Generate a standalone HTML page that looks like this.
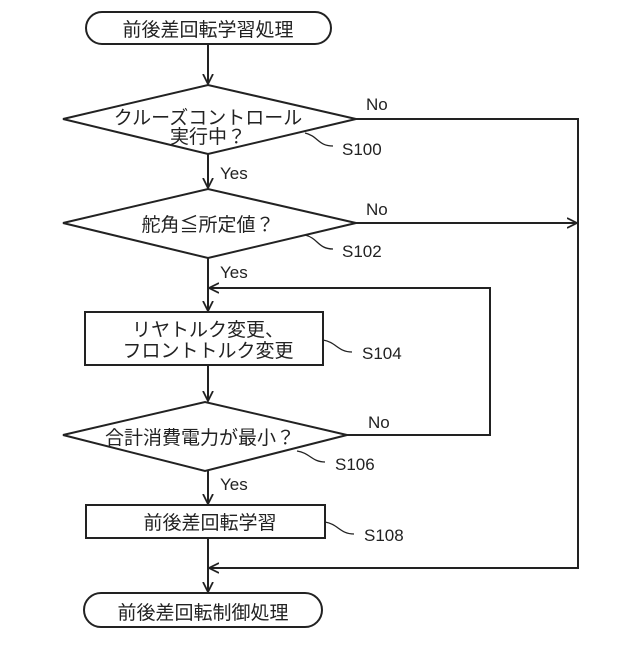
<!DOCTYPE html>
<html><head><meta charset="utf-8"><style>body{margin:0;background:#fff}</style></head><body>
<svg width="640" height="640" viewBox="0 0 640 640" xmlns="http://www.w3.org/2000/svg" font-family="Liberation Sans, Noto Sans CJK JP, sans-serif" fill="none" stroke="#222" stroke-width="2">
<defs><marker id="a" markerWidth="12" markerHeight="12" refX="10" refY="6" orient="auto" markerUnits="userSpaceOnUse"><path d="M0,1 L10,6 L0,11" stroke="#222" stroke-width="1.8" fill="none"/></marker></defs>
<rect x="86" y="12" width="245" height="32" rx="16"/>
<rect x="84" y="593" width="238" height="34" rx="17"/>
<polygon points="63,119 208,85 356,119 208,154"/>
<polygon points="63,223 208,189 356,223 208,258"/>
<rect x="85" y="312" width="238" height="53"/>
<polygon points="63,435 205,402 347,435 205,471"/>
<rect x="86" y="505" width="239" height="33"/>
<line x1="208" y1="44" x2="208" y2="84" marker-end="url(#a)"/>
<line x1="208" y1="154" x2="208" y2="188" marker-end="url(#a)"/>
<line x1="208" y1="258" x2="208" y2="311" marker-end="url(#a)"/>
<line x1="208" y1="365" x2="208" y2="401" marker-end="url(#a)"/>
<line x1="208" y1="471" x2="208" y2="504" marker-end="url(#a)"/>
<line x1="208" y1="538" x2="208" y2="592" marker-end="url(#a)"/>
<polyline points="356,119 578,119 578,568 209,568" marker-end="url(#a)"/>
<line x1="356" y1="223" x2="577" y2="223" marker-end="url(#a)"/>
<polyline points="347,435 490,435 490,288 209,288" marker-end="url(#a)"/>
<g stroke-width="1.3">
<path d="M305,133 C318,136 318,146 333,146"/>
<path d="M305,235 C318,238 318,249 333,249"/>
<path d="M323,340 C336,342 338,352 352,352"/>
<path d="M297,451 C310,453 312,462 325,462"/>
<path d="M325,522 C338,524 340,534 354,534"/>
</g>
<g fill="#222" stroke="none" font-size="19">
<text x="208" y="36" text-anchor="middle">前後差回転学習処理</text>
<text x="203" y="619" text-anchor="middle">前後差回転制御処理</text>
<text x="208" y="124" text-anchor="middle">クルーズコントロール</text>
<text x="208" y="143" text-anchor="middle">実行中？</text>
<text x="208" y="231" text-anchor="middle">舵角≦所定値？</text>
<text x="208" y="336" text-anchor="middle">リヤトルク変更、</text>
<text x="208" y="357" text-anchor="middle">フロントトルク変更</text>
<text x="200" y="444" text-anchor="middle">合計消費電力が最小？</text>
<text x="210" y="529" text-anchor="middle">前後差回転学習</text>
</g>
<g fill="#222" stroke="none" font-size="17">
<text x="366" y="110">No</text>
<text x="366" y="215">No</text>
<text x="368" y="428">No</text>
<text x="220" y="179">Yes</text>
<text x="220" y="278">Yes</text>
<text x="220" y="490">Yes</text>
<text x="342" y="155">S100</text>
<text x="342" y="257">S102</text>
<text x="362" y="359">S104</text>
<text x="335" y="470">S106</text>
<text x="364" y="541">S108</text>
</g>
</svg>
</body></html>
